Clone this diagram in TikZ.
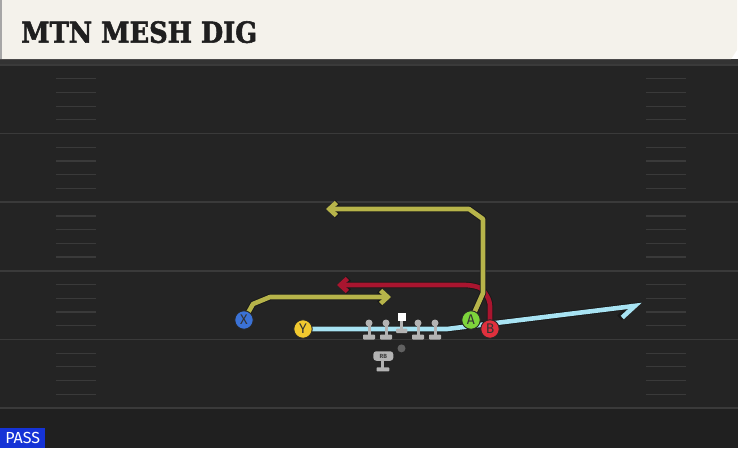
\documentclass[tikz,border=0pt]{standalone}
\usepackage{fontspec}
\usetikzlibrary{positioning,arrows.meta}
\newfontfamily\titlefont{DejaVu Serif}[BoldFeatures={FakeBold=2}]
\newfontfamily\labelfont{Fira Sans}
\definecolor{field}{HTML}{242424}
\definecolor{fieldline}{HTML}{3A3A3A}
\definecolor{banner}{HTML}{F4F2EB}
\definecolor{olive}{HTML}{B7B44A}
\definecolor{crimson}{HTML}{A9152F}
\definecolor{skyblue}{HTML}{A8E3F3}
\definecolor{xblue}{HTML}{3B72D6}
\definecolor{yyellow}{HTML}{F1C92F}
\definecolor{agreen}{HTML}{7DD43B}
\definecolor{bred}{HTML}{E0303D}
\definecolor{oline}{HTML}{B3B3B3}
\definecolor{passblue}{HTML}{1533D6}

\begin{document}
\begin{tikzpicture}[x=1pt, y=-1pt,
    player/.style={circle, draw=black!85, line width=0.9pt, minimum size=18.5pt, inner sep=0pt, font=\labelfont\fontsize{14}{14}\selectfont, text=black!80},
    route/.style={line width=4.6pt, line join=round, preaction={draw=black!90, line width=6.4pt}},
    tip/.style={-{Straight Barb[length=7pt, width=13pt]}},
    halftip/.style={-{Straight Barb[right, length=14pt, width=20pt]}},
    stance/.style={fill=oline}]
        \useasboundingbox (0,0) rectangle (738,448);
        %% Field
        \fill[field] (0,59) rectangle (738,448);
        \fill[black!12!field] (0,409) rectangle (738,448);
        \fill[black!80] (0,59) rectangle (738,64);
        \foreach \k in {0,...,5}
            \draw[fieldline, line width=1.6pt] (0,65+68.6*\k) -- (738,65+68.6*\k);
        \foreach \k in {0,...,4}
            \foreach \j in {1,...,4} {
                \draw[fieldline, line width=1.2pt] (56,65+68.6*\k+13.72*\j) -- (96,65+68.6*\k+13.72*\j);
                \draw[fieldline, line width=1.2pt] (646,65+68.6*\k+13.72*\j) -- (686,65+68.6*\k+13.72*\j);
            }
        
        %% Banner
        \fill[banner] (0,0) -- (737,0) -- (737,50) -- (731,59) -- (0,59) -- cycle;
        \fill[black!35] (0,0) rectangle (2,59);
        \node[anchor=base west, inner sep=0pt, text=black!88] (title) at (21,42.7) {\resizebox{236pt}{21.5pt}{\titlefont\bfseries MTN MESH DIG}};
        
        %% Route turns
        \coordinate (x0) at (244,320);
        \coordinate (x1) at (253,304);
        \coordinate (x2) at (270,297);
        \coordinate (xend) at (391,297);
        \coordinate (y0) at (303,329);
        \coordinate (y1) at (447,329);
        \coordinate (yend) at (642,305);
        \coordinate (a0) at (471,320);
        \coordinate (a1) at (483,293);
        \coordinate (a2) at (483,219);
        \coordinate (a3) at (469,209);
        \coordinate (aend) at (326,209);
        \coordinate (b0) at (490,329);
        \coordinate (b1) at (490,301);
        \coordinate (b2) at (482,288);
        \coordinate (b3) at (470,285);
        \coordinate (bend) at (337,285);
        
        %% Routes
        \draw[route, skyblue, halftip] (y0) -- (y1) -- (yend);
        \draw[route, crimson, tip, rounded corners=5pt] (b0) -- (b1) -- (b2) -- (b3) -- (bend);
        \draw[route, olive, tip] (a0) -- (a1) -- (a2) -- (a3) -- (aend);
        \draw[route, olive, tip] (x0) -- (x1) -- (x2) -- (xend);
        
        %% Players
        \node[player, fill=xblue] (X) at (x0) {X};
        \node[player, fill=yyellow] (Y) at (y0) {Y};
        \node[player, fill=agreen] (A) at (a0) {A};
        \node[player, fill=bred] (B) at (b0) {B};
        
        %% Offensive line
        \node[rectangle, fill=white, minimum size=8pt, inner sep=0pt] (C) at (401.5,317.2) {};
        \fill[stance] (400.1,321) rectangle (402.9,329);
        \fill[stance, rounded corners=0.8pt] (396,328.7) rectangle (407.3,333);
        \foreach \n/\x in {1/369,2/386,4/418,5/435} {
            \node[circle, fill=oline, minimum size=7pt, inner sep=0pt] (OL\n) at (\x,323) {};
            \fill[stance] (\x-1.5,325) rectangle (\x+1.5,335);
            \fill[stance, rounded corners=0.8pt] (\x-6,334.5) rectangle (\x+6,339.5);
        }
        \node[circle, fill=black!62, minimum size=8pt, inner sep=0pt, below=22.8pt of C] (QB) {};
        \node[rectangle, rounded corners=3pt, fill=oline, minimum width=20pt, minimum height=9.5pt, inner sep=0pt, font=\labelfont\bfseries\fontsize{6}{6}\selectfont, text=black!75] (RB) at (383.3,356) {RB};
        \fill[stance] (381.3,360.7) rectangle (384.3,368);
        \fill[stance, rounded corners=0.8pt] (376.5,367.3) rectangle (389.3,371.3);
        
        %% Play type
        \node[anchor=south west, fill=passblue, text=white, minimum width=45pt, minimum height=20pt, inner sep=0pt, font=\labelfont\fontsize{16}{16}\selectfont] (mode) at (0,448) {PASS};
\end{tikzpicture}
\end{document}
